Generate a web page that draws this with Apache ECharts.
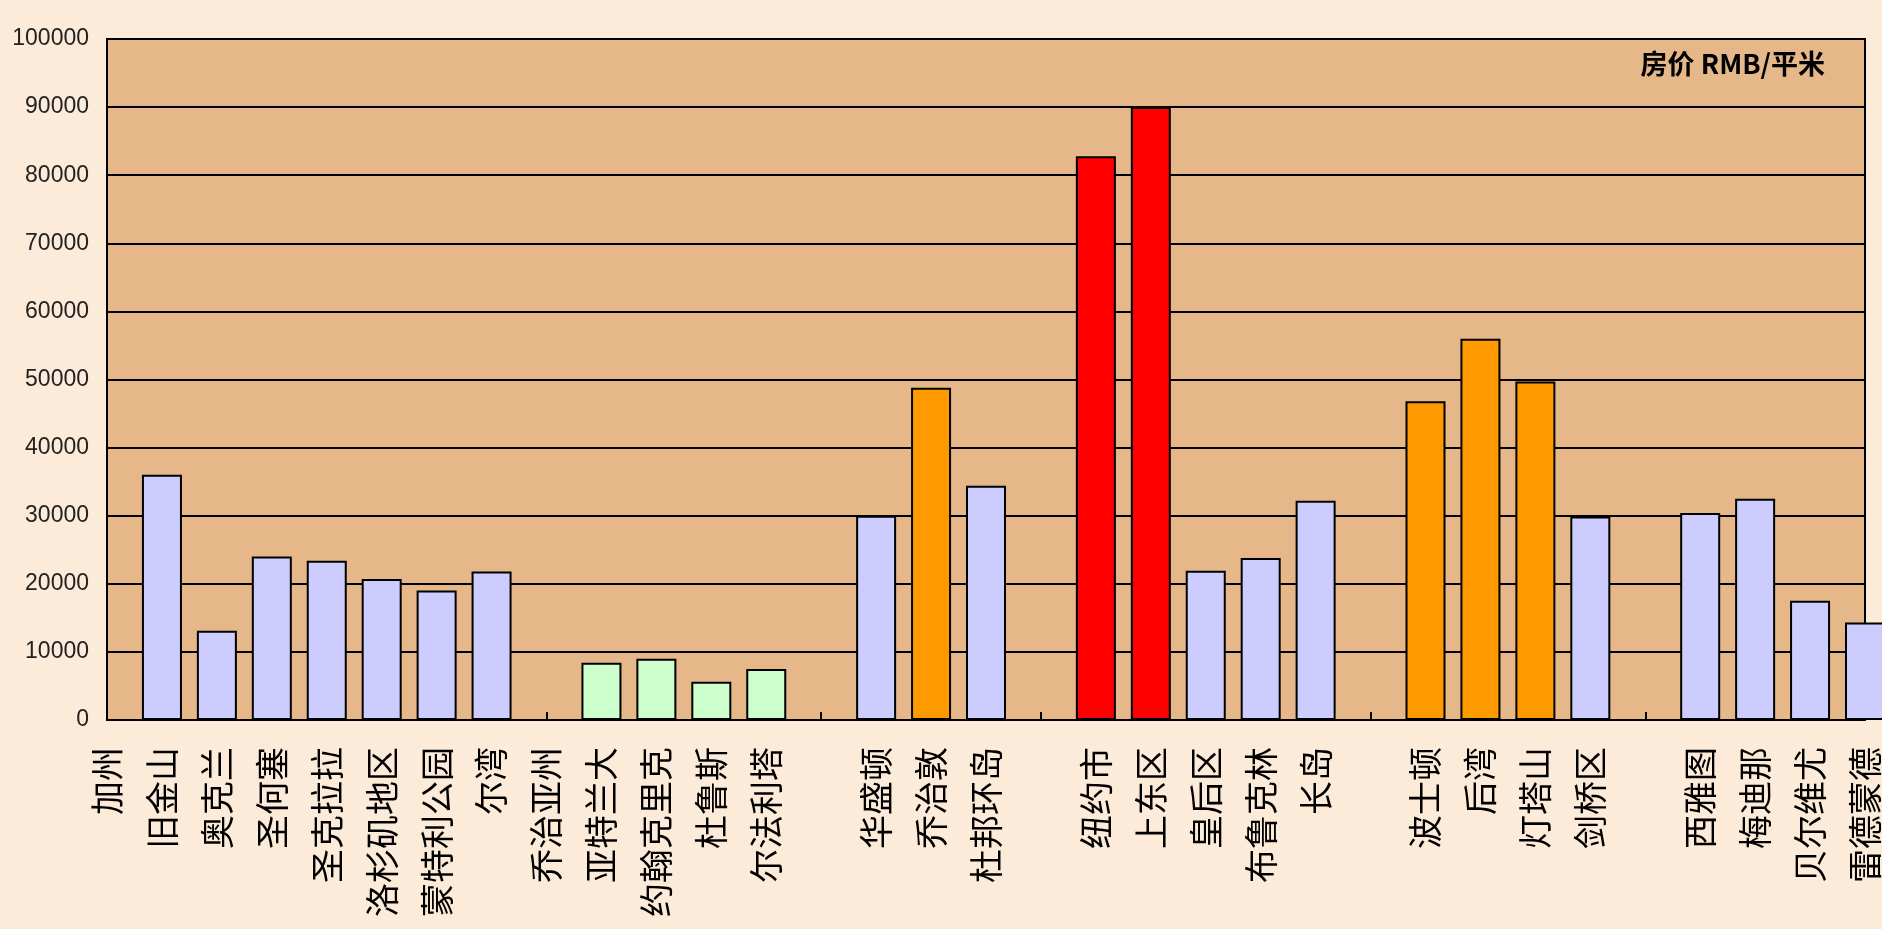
<!DOCTYPE html>
<html>
<head>
<meta charset="utf-8">
<script src="https://cdn.jsdelivr.net/npm/echarts@6/dist/echarts.min.js"></script>
<style>
html,body{margin:0;padding:0;background:#FDEBDA;}
#c{width:1882px;height:929px;}
</style>
</head>
<body>
<div id="c"></div>
<script>
var categories = ['加州','旧金山','奥克兰','圣何塞','圣克拉拉','洛杉矶地区','蒙特利公园','尔湾',
  '乔治亚州','亚特兰大','约翰克里克','杜鲁斯','尔法利塔','',
  '华盛顿','乔治敦','杜邦环岛','',
  '纽约市','上东区','皇后区','布鲁克林','长岛','',
  '波士顿','后湾','灯塔山','剑桥区','',
  '西雅图','梅迪那','贝尔维尤','雷德蒙德'];
var prices = [null,36000,13100,24000,23400,20700,19000,21800,
  null,8400,9000,5600,7500,null,
  30000,48800,34400,null,
  82800,90000,21900,23800,32200,null,
  46800,56000,49700,29900,null,
  30400,32500,17500,14300];
var groups = ['base','base','base','base','base','base','base','base',
  'green','green','green','green','green','base',
  'base','orange','base','base',
  'red','red','base','base','base','base',
  'orange','orange','orange','base','base',
  'base','base','base','base'];
var groupColors = {base:'#CCCCFF', green:'#CCFFCC', orange:'#FF9900', red:'#FF0000'};
var seriesName = '房价 RMB/平米';

var chart = echarts.init(document.getElementById('c'));
var data = prices.map(function(v,i){
  return {value: v, itemStyle: {color: groupColors[groups[i]]}};
});
chart.setOption({
  backgroundColor: '#FDEBDA',
  animation: false,
  title: {
    text: seriesName,
    right: 52, top: 45,
    textStyle: {fontFamily: 'Noto Sans CJK SC', fontSize: 27, fontWeight: 'bold', color: '#000'}
  },
  grid: {
    left: 107, right: 12, top: 39, bottom: 209,
    show: true, backgroundColor: '#E5B789', borderColor: '#000', borderWidth: 2
  },
  xAxis: {
    type: 'category',
    data: categories,
    boundaryGap: false,
    axisLine: {show: true, lineStyle: {color: '#000', width: 2}},
    axisTick: {show: true, inside: true, length: 8, interval: 0, lineStyle: {color: '#000', width: 2}},
    axisLabel: {interval: 0, rotate: 90, margin: 27, fontFamily: 'Noto Sans CJK SC', fontSize: 34, color: '#000'},
    splitLine: {show: false}
  },
  yAxis: {
    type: 'value',
    min: 0, max: 100000, interval: 10000,
    axisLine: {show: false},
    axisTick: {show: false},
    axisLabel: {margin: 18, fontFamily: 'Liberation Sans', fontSize: 23, color: '#222',
      formatter: function(v){ return String(v); }},
    splitLine: {show: true, lineStyle: {color: '#000', width: 2}}
  },
  series: [{
    name: seriesName,
    type: 'bar',
    barWidth: 40,
    data: data,
    itemStyle: {borderColor: '#000', borderWidth: 2}
  }]
});
</script>
</body>
</html>
